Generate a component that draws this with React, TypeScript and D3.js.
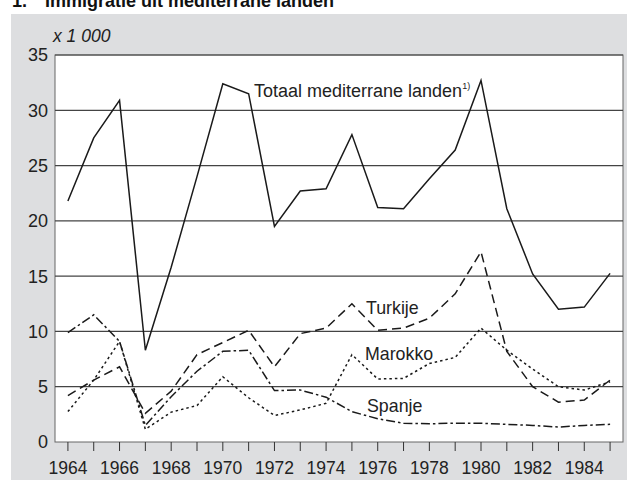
import * as d3 from "d3"

// Immigratie uit mediterrane landen, x 1 000
const years = d3.range(1964, 1986)
const totaal = [21.8, 27.5, 30.9, 8.3, 15.8, 24.0, 32.4, 31.5, 19.5, 22.7, 22.9, 27.8, 21.2, 21.1, 23.8, 26.4, 32.7, 21.1, 15.2, 12.0, 12.2, 15.25]
const turkije = [4.2, 5.6, 6.8, 2.6, 4.6, 7.9, 9.0, 10.1, 6.8, 9.8, 10.3, 12.5, 10.1, 10.3, 11.2, 13.4, 17.2, 8.2, 5.0, 3.6, 3.8, 5.6]
const marokko = [2.75, 5.6, 9.1, 1.15, 2.7, 3.3, 5.9, 4.0, 2.4, 2.9, 3.5, 7.9, 5.7, 5.75, 7.1, 7.65, 10.3, 8.3, 6.6, 5.0, 4.7, 5.45]
const spanje = [9.9, 11.5, 9.1, 1.5, 4.1, 6.4, 8.2, 8.3, 4.65, 4.7, 4.05, 2.75, 2.1, 1.7, 1.65, 1.7, 1.7, 1.6, 1.5, 1.35, 1.5, 1.6]
const yTicks = [0, 5, 10, 15, 20, 25, 30, 35]
const xLabels = [1964, 1966, 1968, 1970, 1972, 1974, 1976, 1978, 1980, 1982, 1984]

const series = [
  { name: "Totaal", values: totaal, dash: "none" },
  { name: "Turkije", values: turkije, dash: "9,5" },
  { name: "Marokko", values: marokko, dash: "2.5,3" },
  { name: "Spanje", values: spanje, dash: "9,3,2.5,3" },
]

const font = "'Liberation Sans', Arial, sans-serif"

const App = () => {
  const width = 627
  const height = 480
  const margin = { top: 55, right: 4, bottom: 38, left: 55 }

  const x = d3
    .scaleLinear()
    .domain([1963.5, 1985.5])
    .range([margin.left, width - margin.right])
  const y = d3
    .scaleLinear()
    .domain([0, 35])
    .range([height - margin.bottom, margin.top])

  const line = d3
    .line<number>()
    .x((_, i) => x(years[i]))
    .y((d) => y(d))

  return (
    <svg
      width={width}
      height={height}
      style={{ position: "absolute", left: 0, top: 0, fontFamily: font }}
    >
      {/* title, cut off at the top like the original */}
      <text x={12} y={7} fontSize={18} fontWeight="bold" fill="#111">1.</text>
      <text x={45} y={7} fontSize={18} fontWeight="bold" fill="#111">
        Immigratie uit mediterrane landen
      </text>

      {/* grey panel */}
      <rect x={11} y={14} width={width - 11} height={height - 14} fill="#dddee0" />

      {/* plot area */}
      <rect
        x={margin.left}
        y={margin.top}
        width={width - margin.left - margin.right}
        height={height - margin.top - margin.bottom}
        fill="#fff"
        stroke="#666"
        strokeWidth={1}
      />

      <text x={53} y={42} fontSize={17.5} fontStyle="italic" fill="#222">x 1 000</text>

      {/* grid lines + y labels */}
      {yTicks.map((t) => (
        <g key={t}>
          {t > 0 && (
            <line
              x1={margin.left}
              x2={width - margin.right}
              y1={y(t)}
              y2={y(t)}
              stroke="#444"
              strokeWidth={1.2}
            />
          )}
          <text
            x={48}
            y={y(t)}
            dy="0.36em"
            textAnchor="end"
            fontSize={18}
            fill="#222"
          >
            {t}
          </text>
        </g>
      ))}

      {/* x ticks */}
      {years.map((yr) => (
        <line
          key={yr}
          x1={x(yr)}
          x2={x(yr)}
          y1={y(0)}
          y2={y(0) + 9}
          stroke="#333"
          strokeWidth={1}
        />
      ))}
      {xLabels.map((yr) => (
        <text key={yr} x={x(yr)} y={474} textAnchor="middle" fontSize={17.5} fill="#222">
          {yr}
        </text>
      ))}

      {/* lines */}
      {series.map((s) => (
        <path
          key={s.name}
          d={line(s.values) || ""}
          fill="none"
          stroke="#1a1a1a"
          strokeWidth={1.5}
          strokeDasharray={s.dash}
        />
      ))}

      {/* line labels */}
      <text x={254} y={97} fontSize={18} fill="#222">
        Totaal mediterrane landen
        <tspan fontSize={9} dy={-8}>1)</tspan>
      </text>
      <text x={366} y={314} fontSize={17.8} fill="#222">Turkije</text>
      <text x={365} y={360} fontSize={17.8} fill="#222">Marokko</text>
      <text x={367} y={412} fontSize={17.8} fill="#222">Spanje</text>
    </svg>
  )
}

export default App
